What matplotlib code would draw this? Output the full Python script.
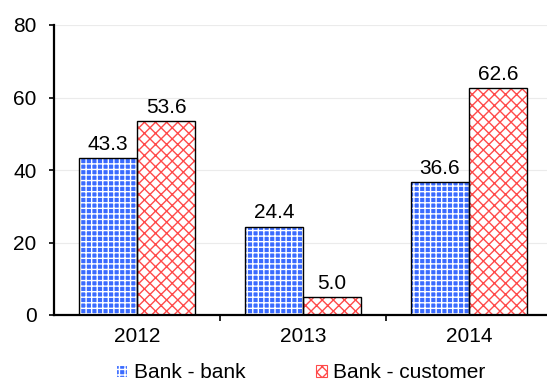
import matplotlib
matplotlib.use("Agg")
import matplotlib.pyplot as plt
import numpy as np
from matplotlib.patches import Patch

plt.rcParams['font.family'] = ['Liberation Sans', 'DejaVu Sans']

years = ["2012", "2013", "2014"]
bank_bank = [43.3, 24.4, 36.6]
bank_customer = [53.6, 5.0, 62.6]
y_ticks = [0, 20, 40, 60, 80]

BLUE = "#3a6bff"
RED = "#ff4a4a"
FS = 15

W, H = 547, 383
fig = plt.figure(figsize=(W / 100, H / 100), dpi=100)
left, right, bottom, top = 54, 552, 315, 25
ax = fig.add_axes([left / W, 1 - bottom / H, (right - left) / W, (bottom - top) / H])

x = np.arange(len(years))
bw = 0.35

def hatched_bars(xpos, vals, face, hatch, hcolor):
    # hatch fill layer
    ax.bar(xpos, vals, bw, color=face, edgecolor=hcolor, hatch=hatch,
           linewidth=0, zorder=2)
    # outline layer
    ax.bar(xpos, vals, bw, fill=False, edgecolor="black", linewidth=1.0, zorder=3)

hatched_bars(x - bw / 2, bank_bank, BLUE, "+++", "white")
hatched_bars(x + bw / 2, bank_customer, "white", "xxx", RED)

for xi, v in zip(x - bw / 2, bank_bank):
    ax.annotate(f"{v:.1f}", (xi, v), xytext=(0, 3), textcoords="offset points",
                ha="center", va="bottom", fontsize=FS)
for xi, v in zip(x + bw / 2, bank_customer):
    ax.annotate(f"{v:.1f}", (xi, v), xytext=(0, 3), textcoords="offset points",
                ha="center", va="bottom", fontsize=FS)

ax.set_xlim(-0.5, 2.5)
ax.set_ylim(0, 80)
ax.set_yticks(y_ticks)
ax.set_yticklabels([str(t) for t in y_ticks], fontsize=FS)
ax.yaxis.grid(True, color="#ebebeb", linewidth=0.8, zorder=0)
ax.set_axisbelow(True)

# category labels centred, tick marks at category boundaries
ax.set_xticks([0.5, 1.5])
ax.set_xticklabels([])
ax.set_xticks(x, minor=True)
ax.set_xticklabels(years, minor=True, fontsize=FS)
ax.tick_params(axis="x", which="minor", length=0, pad=9)
ax.tick_params(axis="x", which="major", length=4, width=1.2, direction="out")
ax.tick_params(axis="y", length=3.5, width=1.2, direction="out", pad=9)

for s in ("top", "right"):
    ax.spines[s].set_visible(False)
for s in ("left", "bottom"):
    ax.spines[s].set_linewidth(1.6)
    ax.spines[s].set_color("black")

handles = [
    Patch(facecolor=BLUE, edgecolor="white", hatch="+++", linewidth=0, label="Bank - bank"),
    Patch(facecolor="white", edgecolor=RED, hatch="xxx", linewidth=0, label="Bank - customer"),
]
leg = fig.legend(handles=handles, loc="center", bbox_to_anchor=(301 / W, 1 - 373 / H),
                 ncol=2, frameon=False, fontsize=FS, handlelength=0.5, handleheight=0.5,
                 handletextpad=0.33, columnspacing=3.4, borderpad=0)
for p in leg.get_patches():
    p.set_linewidth(0.8)

fig.savefig("out.png", dpi=100)
